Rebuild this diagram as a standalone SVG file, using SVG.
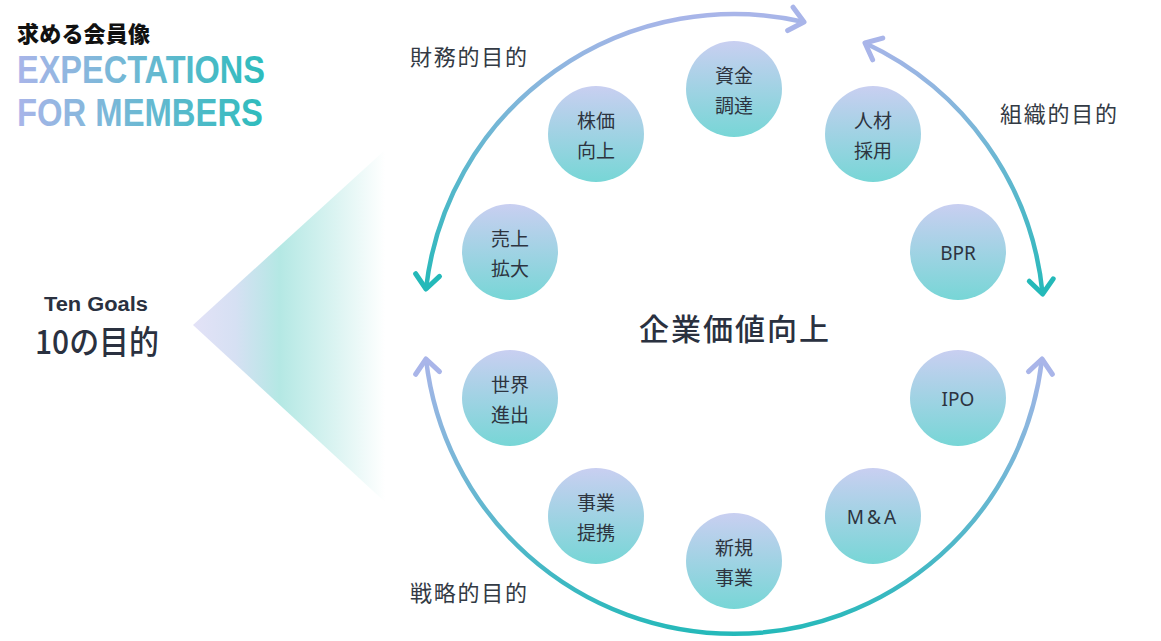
<svg xmlns="http://www.w3.org/2000/svg" width="1161" height="641" viewBox="0 0 1161 641">
  <defs>
    <style>
      .node circle { fill: url(#gNode); }
      .nl { font-family: "Noto Sans CJK JP", "Noto Sans", sans-serif; font-size: 19px; fill: #2d3440; text-anchor: middle; dominant-baseline: central; }
      .ll { font-family: "Noto Sans", "Noto Sans CJK JP", sans-serif; font-size: 19px; fill: #2d3440; text-anchor: middle; }
      .grp { font-family: "Noto Sans CJK JP", sans-serif; font-size: 22px; fill: #333a44; }
      .arc { fill: none; stroke-width: 4.5; }
    </style>
    <linearGradient id="gNode" x1="0" y1="0" x2="0" y2="1">
      <stop offset="0" stop-color="#c9cff1"/>
      <stop offset="1" stop-color="#77d6d6"/>
    </linearGradient>
    <linearGradient id="gTitle" x1="17" y1="0" x2="265" y2="0" gradientUnits="userSpaceOnUse">
      <stop offset="0" stop-color="#a9b5e9"/>
      <stop offset="1" stop-color="#2dbcbc"/>
    </linearGradient>
    <linearGradient id="gTri" x1="193" y1="0" x2="385" y2="0" gradientUnits="userSpaceOnUse">
      <stop offset="0" stop-color="#e3e2f7"/>
      <stop offset="0.22" stop-color="#d6e0f3"/>
      <stop offset="0.45" stop-color="#b4e8e4"/>
      <stop offset="0.75" stop-color="#dcf4f2"/>
      <stop offset="1" stop-color="#ffffff"/>
    </linearGradient>
    <linearGradient id="gTL" x1="0" y1="14" x2="0" y2="292" gradientUnits="userSpaceOnUse">
      <stop offset="0" stop-color="#a9b5e9"/>
      <stop offset="1" stop-color="#24b9b9"/>
    </linearGradient>
    <linearGradient id="gR" x1="0" y1="38" x2="0" y2="298" gradientUnits="userSpaceOnUse">
      <stop offset="0" stop-color="#a9b5e9"/>
      <stop offset="1" stop-color="#24b9b9"/>
    </linearGradient>
    <linearGradient id="gB" x1="0" y1="358" x2="0" y2="636" gradientUnits="userSpaceOnUse">
      <stop offset="0" stop-color="#a9b5e9"/>
      <stop offset="1" stop-color="#24b9b9"/>
    </linearGradient>
    <marker id="mLav" markerUnits="userSpaceOnUse" viewBox="-20 -16 26 32" refX="0" refY="0" markerWidth="26" markerHeight="32" orient="auto-start-reverse" overflow="visible">
      <path d="M-14,-12 L0,0 L-14,12" fill="none" stroke="#a9b5e9" stroke-width="5" stroke-linecap="round" stroke-linejoin="round"/>
    </marker>
    <marker id="mTeal" markerUnits="userSpaceOnUse" viewBox="-20 -16 26 32" refX="0" refY="0" markerWidth="26" markerHeight="32" orient="auto-start-reverse" overflow="visible">
      <path d="M-14,-12 L0,0 L-14,12" fill="none" stroke="#24b9b9" stroke-width="5" stroke-linecap="round" stroke-linejoin="round"/>
    </marker>
  </defs>

  <rect width="1161" height="641" fill="#ffffff"/>

  <g id="title">
    <text x="17" y="42" font-family="Noto Sans CJK JP, sans-serif" font-weight="900" font-size="22" fill="#111111" textLength="133">求める会員像</text>
    <text x="17" y="83" font-family="Liberation Sans, sans-serif" font-weight="bold" font-size="38" fill="url(#gTitle)" textLength="248" lengthAdjust="spacingAndGlyphs">EXPECTATIONS</text>
    <text x="17" y="126" font-family="Liberation Sans, sans-serif" font-weight="bold" font-size="38" fill="url(#gTitle)" textLength="246" lengthAdjust="spacingAndGlyphs">FOR MEMBERS</text>
  </g>

  <g id="ten-goals">
    <polygon points="193,325 385,150 385,502" fill="url(#gTri)"/>
    <text x="96" y="311" font-family="Liberation Sans, sans-serif" font-weight="bold" font-size="20" fill="#2a3140" text-anchor="middle" textLength="104" lengthAdjust="spacingAndGlyphs">Ten Goals</text>
    <text x="97" y="354" font-family="Noto Sans CJK JP, sans-serif" font-weight="500" font-size="33" fill="#2a3140" text-anchor="middle" textLength="124" lengthAdjust="spacingAndGlyphs">10の目的</text>
  </g>

  <g id="connectors">
    <path class="arc" stroke="url(#gTL)" d="M 426,289 A 310 310 0 0 1 804,22" marker-start="url(#mTeal)" marker-end="url(#mLav)"/>
    <path class="arc" stroke="url(#gR)" d="M 865,43 A 310 310 0 0 1 1042.6,294" marker-start="url(#mLav)" marker-end="url(#mTeal)"/>
    <path class="arc" stroke="url(#gB)" d="M 1042,359 A 310 310 0 0 1 426,359" marker-start="url(#mLav)" marker-end="url(#mLav)"/>
  </g>

  <g id="group-labels">
    <text class="grp" x="410" y="65" textLength="117">財務的目的</text>
    <text class="grp" x="1000" y="122" textLength="117">組織的目的</text>
    <text class="grp" x="410" y="601" textLength="117">戦略的目的</text>
  </g>

  <g id="center">
    <text x="734" y="340" font-family="Noto Sans CJK JP, sans-serif" font-size="30" font-weight="500" fill="#2a3140" text-anchor="middle" textLength="190">企業価値向上</text>
  </g>

  <g id="node-shikin" class="node">
    <circle cx="734" cy="89" r="48"/>
    <text class="nl" x="734" y="74">資金</text>
    <text class="nl" x="734" y="104">調達</text>
  </g>
  <g id="node-jinzai" class="node">
    <circle cx="873" cy="134" r="48"/>
    <text class="nl" x="873" y="119">人材</text>
    <text class="nl" x="873" y="149">採用</text>
  </g>
  <g id="node-bpr" class="node">
    <circle cx="958" cy="252" r="48"/>
    <text class="ll" x="958" y="260">BPR</text>
  </g>
  <g id="node-ipo" class="node">
    <circle cx="958" cy="398" r="48"/>
    <text class="ll" x="958" y="406">IPO</text>
  </g>
  <g id="node-ma" class="node">
    <circle cx="873" cy="516" r="48"/>
    <text class="ll" x="873" y="524" letter-spacing="3">M&amp;A</text>
  </g>
  <g id="node-shinki" class="node">
    <circle cx="734" cy="561" r="48"/>
    <text class="nl" x="734" y="546">新規</text>
    <text class="nl" x="734" y="576">事業</text>
  </g>
  <g id="node-teikei" class="node">
    <circle cx="596" cy="516" r="48"/>
    <text class="nl" x="596" y="501">事業</text>
    <text class="nl" x="596" y="531">提携</text>
  </g>
  <g id="node-sekai" class="node">
    <circle cx="510" cy="398" r="48"/>
    <text class="nl" x="510" y="383">世界</text>
    <text class="nl" x="510" y="413">進出</text>
  </g>
  <g id="node-uriage" class="node">
    <circle cx="510" cy="252" r="48"/>
    <text class="nl" x="510" y="237">売上</text>
    <text class="nl" x="510" y="267">拡大</text>
  </g>
  <g id="node-kabuka" class="node">
    <circle cx="596" cy="134" r="48"/>
    <text class="nl" x="596" y="119">株価</text>
    <text class="nl" x="596" y="149">向上</text>
  </g>
</svg>
